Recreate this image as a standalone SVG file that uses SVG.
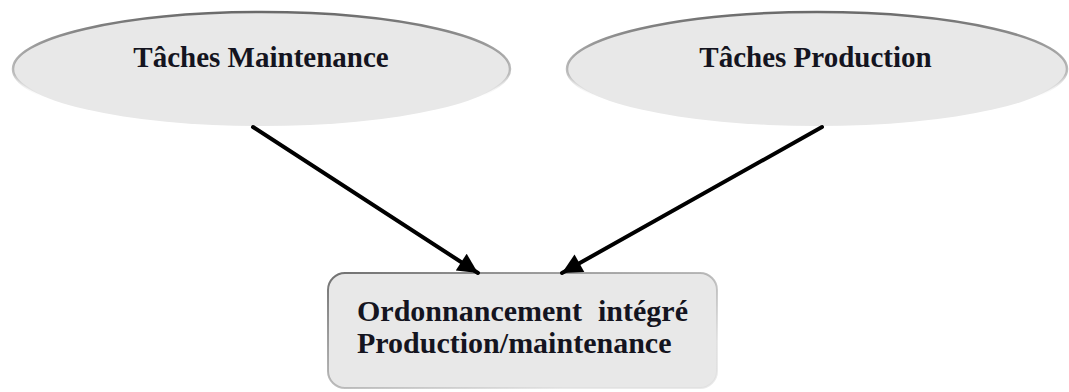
<svg xmlns="http://www.w3.org/2000/svg" width="1069" height="392" viewBox="0 0 1069 392">
<style>
.lbl{font-family:"Liberation Serif","Times New Roman",serif;font-weight:bold;fill:#141420;}
.shape{fill:#e8e8e8;}
.conn{stroke:#000;stroke-width:4;fill:none;stroke-linecap:round;}
</style>
<defs>
<linearGradient id="edgeE" x1="0" y1="0" x2="0" y2="1">
<stop offset="0" stop-color="#6a6a6a"/>
<stop offset="0.55" stop-color="#9a9a9a" stop-opacity="0.6"/>
<stop offset="0.75" stop-color="#e8e8e8" stop-opacity="0"/>
</linearGradient>
<linearGradient id="edgeB" x1="0" y1="0" x2="1" y2="1">
<stop offset="0" stop-color="#707070"/>
<stop offset="0.5" stop-color="#a0a0a0" stop-opacity="0.7"/>
<stop offset="0.8" stop-color="#dcdcdc" stop-opacity="0.6"/>
</linearGradient>
<marker id="arrow" viewBox="0 0 10 10" refX="10" refY="5" markerWidth="5.5" markerHeight="5" markerUnits="strokeWidth" orient="auto">
<path d="M0,0 L10,5 L0,10 Z" fill="#000"/>
</marker>
</defs>
<g id="node-maintenance">
<ellipse class="shape" cx="261.5" cy="69" rx="248.5" ry="57" stroke="url(#edgeE)" stroke-width="2.5"/>
<text class="lbl" x="261" y="67" font-size="29" text-anchor="middle">Tâches Maintenance</text>
</g>
<g id="node-production">
<ellipse class="shape" cx="817" cy="69" rx="250" ry="57" stroke="url(#edgeE)" stroke-width="2.5"/>
<text class="lbl" x="815.5" y="67" font-size="29" text-anchor="middle">Tâches Production</text>
</g>
<g id="node-ordonnancement">
<rect class="shape" x="328" y="273" width="389" height="115" rx="17" ry="17" stroke="url(#edgeB)" stroke-width="2"/>
<text class="lbl" x="357" y="321" font-size="30" word-spacing="8.5">Ordonnancement intégré</text>
<text class="lbl" x="357" y="353" font-size="30">Production/maintenance</text>
</g>
<g id="connectors">
<line class="conn" x1="253" y1="127" x2="478" y2="273" marker-end="url(#arrow)"/>
<line class="conn" x1="822" y1="127" x2="562" y2="273" marker-end="url(#arrow)"/>
</g>
</svg>
